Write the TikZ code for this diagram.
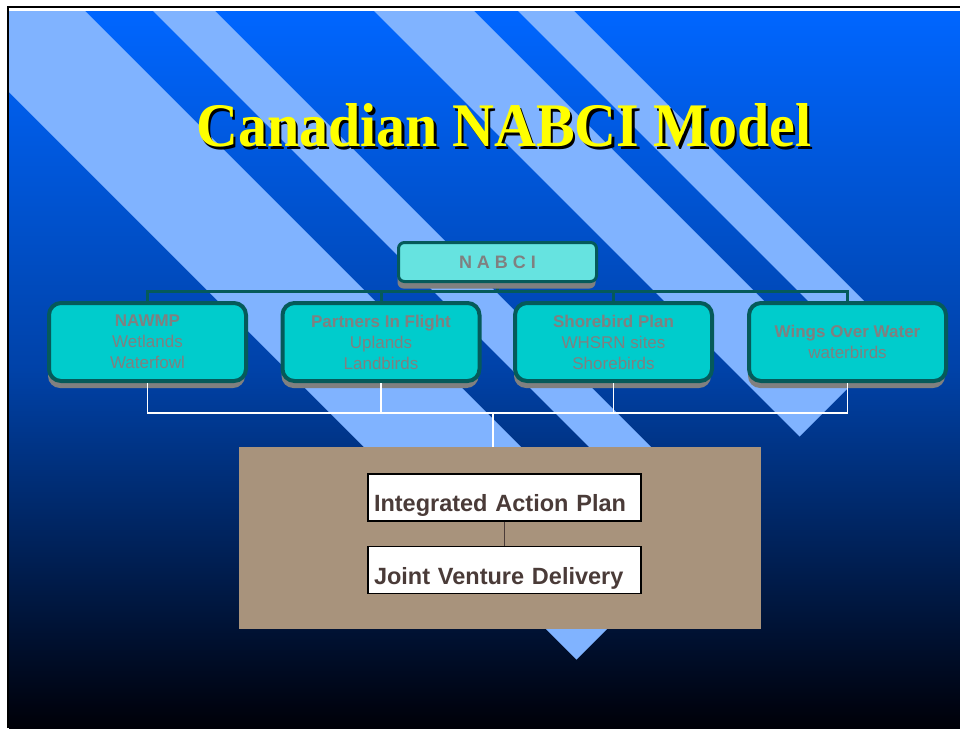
\documentclass[tikz,border=0pt]{standalone}
\usepackage{fontspec}
\setmainfont{Liberation Serif}
\setsansfont{Liberation Sans}
\usetikzlibrary{positioning,shadows}
\definecolor{slidetop}{HTML}{0066FF}
\definecolor{slidemid}{HTML}{0042A8}
\definecolor{slidebot}{HTML}{000008}
\definecolor{stripeblue}{HTML}{80B3FF}
\definecolor{progfill}{HTML}{00CCCC}
\definecolor{topfill}{HTML}{66E3E0}
\definecolor{tealedge}{HTML}{055A5A}
\definecolor{labelgray}{HTML}{808080}
\definecolor{panelbrown}{HTML}{A8937C}
\definecolor{plantext}{HTML}{4A3B38}
\definecolor{titleyellow}{HTML}{FFFF00}
\pgfdeclarelayer{back}
\pgfdeclarelayer{links}
\pgfsetlayers{back,links,main}
\newcommand{\shadowtitle}[1]{\makebox[0pt][l]{\raisebox{-2.5pt}{\hspace{2.5pt}\textcolor{black}{#1}}}#1}
\tikzset{
    stripe/.style={
    fill=stripeblue
    },
    titletext/.style={
    inner sep=0pt,font=\bfseries\fontsize{62}{62}\selectfont,text=titleyellow
    },
    umbrella/.style={
    rectangle,rounded corners=6pt,draw=tealedge,line width=3pt,fill=topfill,
    minimum width=198pt,minimum height=39pt,inner sep=0pt,
    font=\sffamily\bfseries\fontsize{18}{18}\selectfont,text=labelgray,
    drop shadow={shadow xshift=-1pt,shadow yshift=-7pt,fill=labelgray,opacity=1}
    },
    program/.style={
    rectangle,rounded corners=12pt,draw=tealedge,line width=4pt,fill=progfill,
    minimum width=197pt,minimum height=78pt,inner sep=0pt,align=center,
    font=\sffamily\fontsize{17}{21}\selectfont,text=labelgray,
    drop shadow={shadow xshift=-1pt,shadow yshift=-7pt,fill=labelgray,opacity=1}
    },
    panel/.style={
    rectangle,fill=panelbrown,minimum width=522pt,minimum height=182pt,inner sep=0pt
    },
    planbox/.style={
    rectangle,draw=black,line width=1.5pt,fill=white,
    minimum width=273pt,minimum height=47pt,inner sep=0pt,
    text width=261pt,align=left,text height=28pt,text depth=0pt,
    font=\sffamily\bfseries\fontsize{23.5}{23.5}\selectfont,text=plantext
    },
    treeline/.style={
    draw=tealedge,line width=3pt
    },
    feedline/.style={
    draw=white,line width=1.5pt
    },
    planlink/.style={
    draw=plantext,line width=1.5pt
    },
}
\begin{document}
\begin{tikzpicture}[x=1pt, y=-1pt]
  \useasboundingbox (0,0) rectangle (960,728);
  \begin{pgfonlayer}{back}
    \fill[white] (0,0) rectangle (960,728);
    \draw[black,line width=2pt] (7.5,728) -- (7.5,7) -- (960,7);
    \shade[top color=slidetop,bottom color=slidebot,middle color=slidemid] (9,11) rectangle (960,728);
    \begin{scope}
      \clip (9,11) rectangle (960,728);
      \fill[stripe] (-103,-20) -- (54,-20) -- (655,581) -- (576.5,659.5) -- cycle;
      \fill[stripe] (122,-20) -- (184,-20) -- (720,516) -- (689,547) -- cycle;
      \fill[stripe] (343,-20) -- (443,-20) -- (849.5,386.5) -- (799.5,436.5) -- cycle;
      \fill[stripe] (487,-20) -- (543,-20) -- (899.5,336.5) -- (871.5,364.5) -- cycle;
    \end{scope}
  \end{pgfonlayer}

  \node[titletext] (title) at (504,127) {\scalebox{0.935}[1]{\shadowtitle{Canadian NABCI Model}}};

  \node[umbrella] (nabci) at (497.5,262) {N A B C I};
  \node[program] (nawmp) at (147.5,342) {\textbf{NAWMP}\\Wetlands\\Waterfowl};
  \node[program] (pif) at (381,342) {\textbf{Partners In Flight}\\Uplands\\Landbirds};
  \node[program] (shore) at (613.5,342) {\textbf{Shorebird Plan}\\WHSRN sites\\Shorebirds};
  \node[program] (wow) at (847.5,342) {\textbf{Wings Over Water}\\waterbirds};

  \node[panel] (panel) at (500,538) {};
  \node[planbox] (iap) at (504.5,497.5) {Integrated Action Plan};
  \node[planbox] (jvd) at (504.5,570) {Joint Venture Delivery};
  \path[planlink] (iap) edge (jvd);

  \coordinate (bus) at (497.5,291);
  \coordinate (hub) at (493,413);
  \begin{pgfonlayer}{links}
    \draw[treeline] (nabci.south) -- (bus) -| (nawmp.north);
    \draw[treeline] (bus) -| (pif.north);
    \draw[treeline] (bus) -| (shore.north);
    \draw[treeline] (bus) -| (wow.north);
  \end{pgfonlayer}
  \draw[feedline] (nawmp.south) |- (hub);
  \draw[feedline] (pif.south) |- (hub);
  \draw[feedline] (shore.south) |- (hub);
  \draw[feedline] (wow.south) |- (hub);
  \draw[feedline] (hub) -- (hub |- panel.north);
\end{tikzpicture}
\end{document}
